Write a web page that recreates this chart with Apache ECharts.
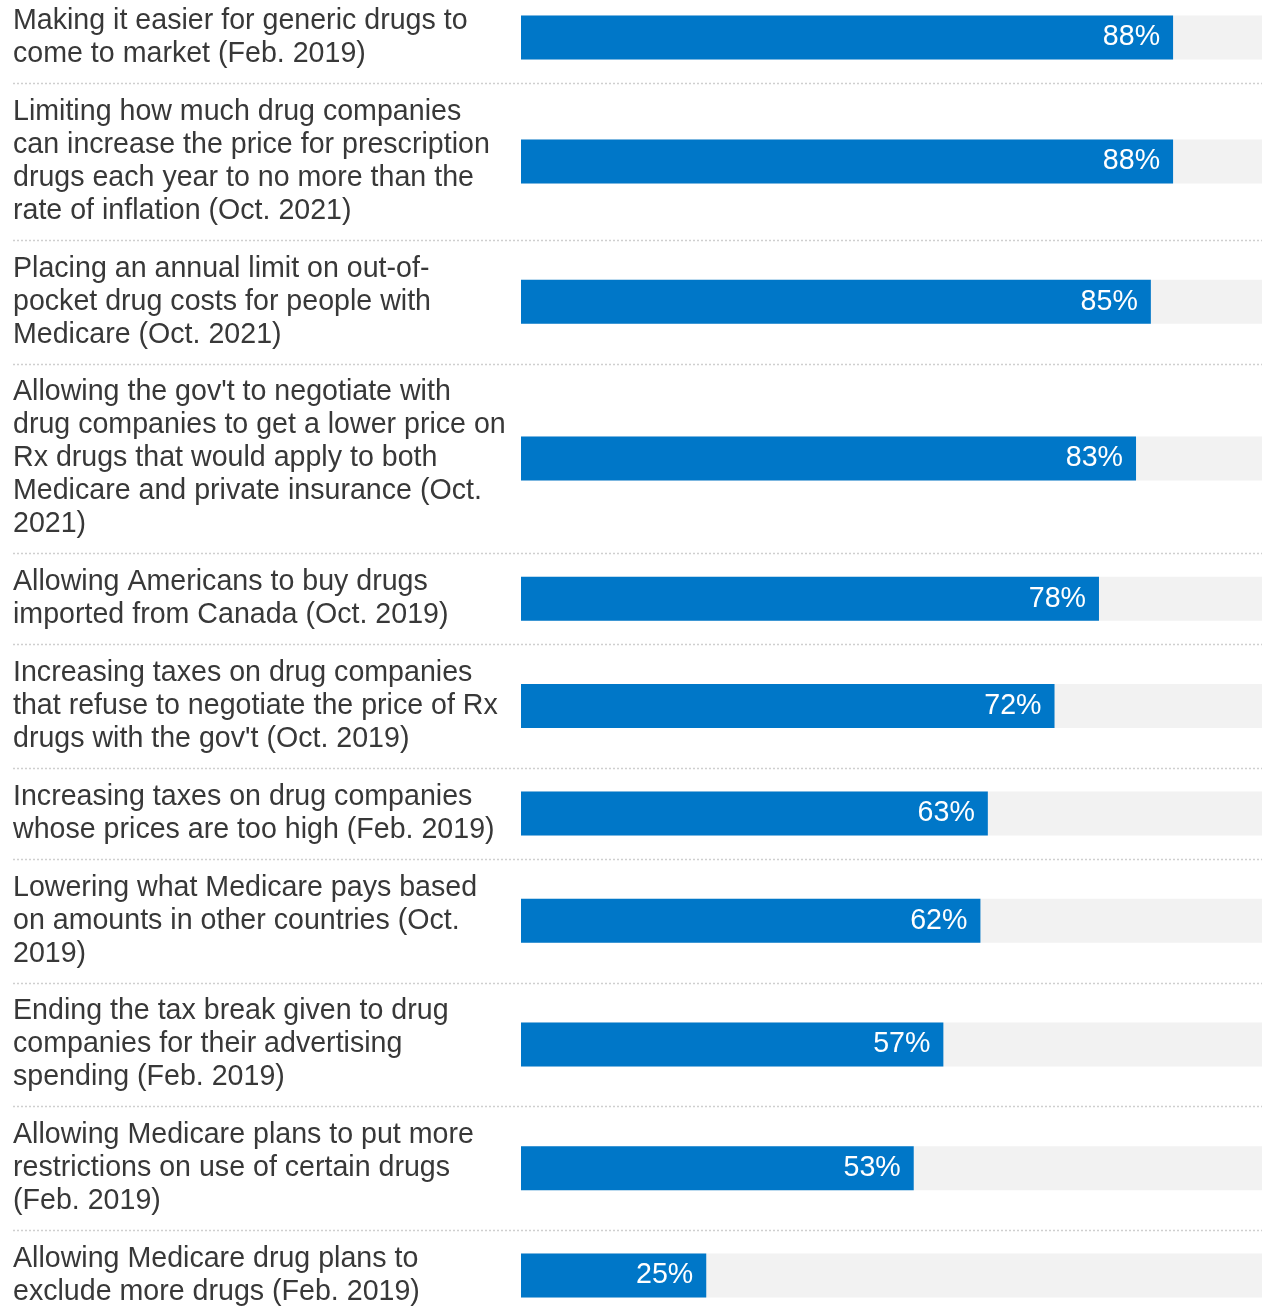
<!DOCTYPE html>
<html>
<head>
<meta charset="utf-8">
<script src="https://cdn.jsdelivr.net/npm/echarts@6/dist/echarts.min.js"></script>
<style>
  html, body { margin: 0; padding: 0; background: #fff; }
  #chart { width: 1262px; height: 1307px; }
</style>
</head>
<body>
<div id="chart"></div>
<script>
// Survey items (line breaks as they wrap in the label column)
const categories = [
  "Making it easier for generic drugs to\ncome to market (Feb. 2019)",
  "Limiting how much drug companies\ncan increase the price for prescription\ndrugs each year to no more than the\nrate of inflation (Oct. 2021)",
  "Placing an annual limit on out-of-\npocket drug costs for people with\nMedicare (Oct. 2021)",
  "Allowing the gov't to negotiate with\ndrug companies to get a lower price on\nRx drugs that would apply to both\nMedicare and private insurance (Oct.\n2021)",
  "Allowing Americans to buy drugs\nimported from Canada (Oct. 2019)",
  "Increasing taxes on drug companies\nthat refuse to negotiate the price of Rx\ndrugs with the gov't (Oct. 2019)",
  "Increasing taxes on drug companies\nwhose prices are too high (Feb. 2019)",
  "Lowering what Medicare pays based\non amounts in other countries (Oct.\n2019)",
  "Ending the tax break given to drug\ncompanies for their advertising\nspending (Feb. 2019)",
  "Allowing Medicare plans to put more\nrestrictions on use of certain drugs\n(Feb. 2019)",
  "Allowing Medicare drug plans to\nexclude more drugs (Feb. 2019)"
];
// Percent in favor
const values = [88, 88, 85, 83, 78, 72, 63, 62, 57, 53, 25];

// Layout: each row is as tall as its wrapped label
const LINE_H = 33;
const ROW_PAD = 24.8;
const START_Y = -7.8;
const BAR_LEFT = 521;
const TEXT_LEFT = 13;
const BLUE = '#0077C8';
const FONT = '"Liberation Sans", Arial, Helvetica, sans-serif';
const FONT_SIZE = 28.6;

const rowTops = [];
const rowHeights = [];
let y = START_Y;
categories.forEach(c => {
  const h = c.split('\n').length * LINE_H + ROW_PAD;
  rowTops.push(y);
  rowHeights.push(h);
  y += h;
});

const grid = [], xAxis = [], yAxis = [], series = [], graphic = [];
categories.forEach((cat, i) => {
  grid.push({
    left: BAR_LEFT, right: 0, top: rowTops[i], height: rowHeights[i],
    outerBoundsMode: 'none', containLabel: false
  });
  xAxis.push({
    gridIndex: i, type: 'value', min: 0, max: 100,
    show: false
  });
  yAxis.push({
    gridIndex: i, type: 'category', data: [cat],
    axisLine: { show: false }, axisTick: { show: false }, splitLine: { show: false },
    axisLabel: {
      align: 'left', margin: BAR_LEFT - TEXT_LEFT,
      fontFamily: FONT, fontSize: FONT_SIZE, lineHeight: LINE_H, color: '#383838',
      padding: [6, 0, 0, 0]
    }
  });
  series.push({
    type: 'bar', xAxisIndex: i, yAxisIndex: i,
    data: [values[i]], barWidth: 44,
    itemStyle: { color: BLUE },
    showBackground: true,
    backgroundStyle: { color: '#f2f2f2' },
    label: {
      show: true, position: 'insideRight', distance: 13,
      formatter: '{c}%', color: '#fff', fontFamily: FONT, fontSize: FONT_SIZE,
      padding: [2, 0, 0, 0]
    },
    silent: true
  });
  if (i < categories.length - 1) {
    const sy = Math.round(rowTops[i] + rowHeights[i]) + 0.5;
    graphic.push({
      type: 'line',
      shape: { x1: TEXT_LEFT, y1: sy, x2: 1262, y2: sy },
      style: { stroke: '#cfcfcf', lineWidth: 1.5, lineDash: [2, 2] },
      silent: true
    });
  }
});

const chart = echarts.init(document.getElementById('chart'), null, { renderer: 'canvas' });
chart.setOption({
  animation: false,
  backgroundColor: '#fff',
  grid, xAxis, yAxis, series, graphic
});
</script>
</body>
</html>
